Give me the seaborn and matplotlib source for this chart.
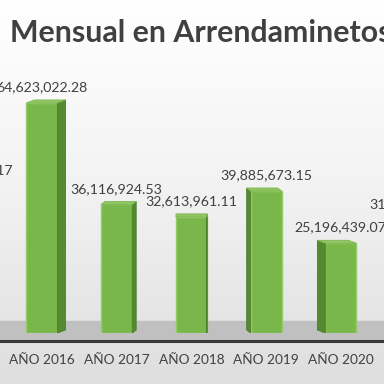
import numpy as np
import pandas as pd
import matplotlib
matplotlib.use("Agg")
import matplotlib.pyplot as plt
import seaborn as sns
from matplotlib.patches import Polygon
from matplotlib.transforms import IdentityTransform
from matplotlib.colors import LinearSegmentedColormap

# ---- data ----
categories = ["AÑO 2015", "AÑO 2016", "AÑO 2017", "AÑO 2018", "AÑO 2019", "AÑO 2020", "AÑO 2021"]
values = [41285460.17, 64623022.28, 36116924.53, 32613961.11, 39885673.15, 25196439.07, 31874210.45]
title = "Mensual en Arrendaminetos"

sns.set_theme(style="white")
plt.rcParams['font.family'] = ['Lato', 'DejaVu Sans']

W = 384
fig = plt.figure(figsize=(3.84, 3.84), dpi=100)

# background gradient + floor
bg = fig.add_axes([0, 0, 1, 1], zorder=0)
grad = np.linspace(0, 1, 256)[:, None]
cmap = LinearSegmentedColormap.from_list('g', ['#ffffff', '#f2f2f2', '#dedede'])
bg.imshow(grad, aspect='auto', cmap=cmap, extent=[0, 1, 0, 1])
bg.axhspan(45 / W, 63 / W, color='#c0c0c0', zorder=2)
bg.axhline(43 / W, color='#3a3a3a', lw=2.2, zorder=3)
bg.set_xlim(0, 1)
bg.set_ylim(0, 1)
bg.axis('off')

# main axes
px_per_unit = 3.56e-6
ax = fig.add_axes([0, 51 / W, 1, 333 / W], zorder=1)
ax.set_facecolor('none')
df = pd.DataFrame({"cat": categories, "val": values})
sns.barplot(data=df, x="cat", y="val", ax=ax, color='#79b74b', saturation=1,
            width=0.415, edgecolor='#93cc68', linewidth=1.0)
ax.set_xlim(0.4378, 5.578)
ax.set_ylim(0, 333 / px_per_unit)
for s in ax.spines.values():
    s.set_visible(False)
ax.set_yticks([])
ax.set_xlabel("")
ax.set_ylabel("")
ax.tick_params(axis='x', length=0, pad=15, labelsize=9.8, labelcolor='#404040')

# pseudo-3D sides and tops
ident = IdentityTransform()
for p in list(ax.patches):
    x0, y0 = ax.transData.transform((p.get_x(), 0))
    x1, y1 = ax.transData.transform((p.get_x() + p.get_width(), p.get_height()))
    xc = (x0 + x1) / 2
    dx = -0.053 * (xc - 192)
    dy = 3
    if dx > 0:
        side = [(x1, y0), (x1, y1), (x1 + dx, y1 + dy), (x1 + dx, y0 + dy)]
    else:
        side = [(x0, y0), (x0, y1), (x0 + dx, y1 + dy), (x0 + dx, y0 + dy)]
    top = [(x0, y1), (x1, y1), (x1 + dx, y1 + dy), (x0 + dx, y1 + dy)]
    ax.add_artist(Polygon(side, closed=True, transform=ident, facecolor='#558a30',
                          edgecolor='#4b7c2a', lw=0.6, zorder=1.5))
    ax.add_artist(Polygon(top, closed=True, transform=ident, facecolor='#8fc662',
                          edgecolor='#7fb553', lw=0.6, zorder=1.5))

texts = ax.bar_label(ax.containers[0], labels=[f"{v:,.2f}" for v in values], padding=7,
                     fontsize=10.2, color='#404040')
for t in texts:
    t.set_annotation_clip(False)

fig.text(10 / W, 1 - 33 / W, title, fontsize=21.8, fontweight='bold', color='#404040',
         va='center', ha='left')

fig.savefig('out.png', dpi=100)
